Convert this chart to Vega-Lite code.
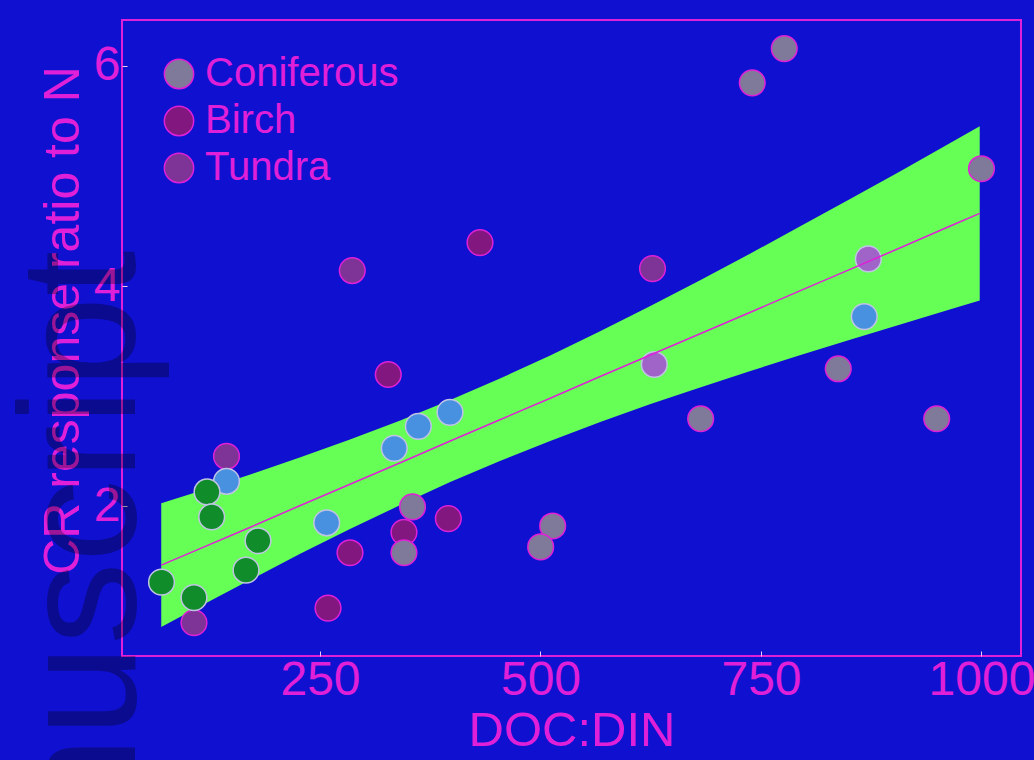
{
  "$schema": "https://vega.github.io/schema/vega-lite/v6.json",
  "autosize": {"type": "none"},
  "width": 899,
  "height": 636,
  "padding": {"left": 122, "top": 20, "right": 13, "bottom": 104},
  "background": "#1010d0",
  "config": {
    "font": "Liberation Sans",
    "view": {"stroke": "#e020d8", "strokeWidth": 2, "fill": "#1010d0"}
  },
  "datasets": {
    "pts": [
      {"x": 776.4, "y": 6.157, "type": "Coniferous", "band": "out"},
      {"x": 740.1, "y": 5.846, "type": "Coniferous", "band": "out"},
      {"x": 1000.0, "y": 5.066, "type": "Coniferous", "band": "out"},
      {"x": 871.7, "y": 4.247, "type": "Coniferous", "band": "in"},
      {"x": 867.1, "y": 3.723, "type": "Birch", "band": "in"},
      {"x": 837.6, "y": 3.249, "type": "Coniferous", "band": "out"},
      {"x": 949.2, "y": 2.795, "type": "Coniferous", "band": "out"},
      {"x": 681.6, "y": 2.795, "type": "Coniferous", "band": "out"},
      {"x": 629.0, "y": 3.288, "type": "Coniferous", "band": "in"},
      {"x": 627.0, "y": 4.159, "type": "Tundra", "band": "out"},
      {"x": 431.4, "y": 4.395, "type": "Birch", "band": "out"},
      {"x": 286.6, "y": 4.141, "type": "Tundra", "band": "out"},
      {"x": 327.4, "y": 3.197, "type": "Birch", "band": "out"},
      {"x": 397.4, "y": 2.853, "type": "Birch", "band": "in"},
      {"x": 361.5, "y": 2.726, "type": "Birch", "band": "in"},
      {"x": 334.2, "y": 2.526, "type": "Birch", "band": "in"},
      {"x": 257.6, "y": 1.850, "type": "Birch", "band": "in"},
      {"x": 354.9, "y": 1.995, "type": "Coniferous", "band": "out"},
      {"x": 395.5, "y": 1.888, "type": "Birch", "band": "out"},
      {"x": 345.2, "y": 1.764, "type": "Birch", "band": "out"},
      {"x": 345.2, "y": 1.578, "type": "Coniferous", "band": "out"},
      {"x": 284.0, "y": 1.578, "type": "Birch", "band": "out"},
      {"x": 259.1, "y": 1.075, "type": "Birch", "band": "out"},
      {"x": 513.8, "y": 1.821, "type": "Coniferous", "band": "out"},
      {"x": 500.2, "y": 1.631, "type": "Coniferous", "band": "out"},
      {"x": 144.0, "y": 2.454, "type": "Tundra", "band": "out"},
      {"x": 107.1, "y": 0.942, "type": "Tundra", "band": "out"},
      {"x": 144.0, "y": 2.227, "type": "Birch", "band": "in"},
      {"x": 121.9, "y": 2.130, "type": "Tundra", "band": "in"},
      {"x": 127.2, "y": 1.903, "type": "Tundra", "band": "in"},
      {"x": 179.7, "y": 1.687, "type": "Tundra", "band": "in"},
      {"x": 166.1, "y": 1.420, "type": "Tundra", "band": "in"},
      {"x": 70.3, "y": 1.311, "type": "Tundra", "band": "in"},
      {"x": 107.1, "y": 1.170, "type": "Tundra", "band": "in"}
    ],
    "fit": [
      {"x": 70, "fit": 1.465, "lo": 0.903, "hi": 2.027},
      {"x": 114, "fit": 1.615, "lo": 1.091, "hi": 2.139},
      {"x": 171, "fit": 1.810, "lo": 1.332, "hi": 2.288},
      {"x": 227, "fit": 2.005, "lo": 1.566, "hi": 2.444},
      {"x": 284, "fit": 2.200, "lo": 1.793, "hi": 2.607},
      {"x": 341, "fit": 2.395, "lo": 2.011, "hi": 2.779},
      {"x": 397, "fit": 2.591, "lo": 2.218, "hi": 2.964},
      {"x": 454, "fit": 2.786, "lo": 2.412, "hi": 3.160},
      {"x": 511, "fit": 2.981, "lo": 2.593, "hi": 3.369},
      {"x": 567, "fit": 3.176, "lo": 2.764, "hi": 3.588},
      {"x": 624, "fit": 3.372, "lo": 2.926, "hi": 3.818},
      {"x": 681, "fit": 3.567, "lo": 3.080, "hi": 4.054},
      {"x": 738, "fit": 3.762, "lo": 3.228, "hi": 4.296},
      {"x": 794, "fit": 3.957, "lo": 3.372, "hi": 4.542},
      {"x": 851, "fit": 4.152, "lo": 3.513, "hi": 4.791},
      {"x": 908, "fit": 4.348, "lo": 3.652, "hi": 5.044},
      {"x": 964, "fit": 4.543, "lo": 3.788, "hi": 5.298},
      {"x": 998, "fit": 4.660, "lo": 3.869, "hi": 5.451}
    ]
  },
  "encoding": {
    "x": {
      "type": "quantitative",
      "scale": {"domain": [25.5, 1044.8], "nice": false, "zero": false},
      "axis": {
        "values": [250, 500, 750, 1000], "format": "d",
        "domain": false, "grid": false,
        "tickSize": -5, "tickColor": "#f0c8f0", "tickWidth": 1,
        "labelFontSize": 48, "labelColor": "#e020d8", "labelPadding": 5,
        "labelOverlap": false, "labelFlush": false,
        "title": "DOC:DIN", "titleFontSize": 49, "titleColor": "#e020d8",
        "titleFontWeight": "normal", "titleBaseline": "alphabetic", "titleY": 89
      }
    },
    "y": {
      "type": "quantitative",
      "scale": {"domain": [0.64, 6.417], "nice": false, "zero": false},
      "axis": {
        "values": [2, 4, 6], "format": "d",
        "domain": false, "grid": false,
        "tickSize": -5, "tickColor": "#f0c8f0", "tickWidth": 1,
        "labelFontSize": 48, "labelColor": "#e020d8", "labelPadding": 7,
        "labelOverlap": false, "labelFlush": false,
        "title": "CR response ratio to N", "titleFontSize": 50, "titleColor": "#e020d8",
        "titleFontWeight": "normal", "titleBaseline": "alphabetic",
        "titleAngle": 270, "titleX": -44, "titleY": 300
      }
    }
  },
  "layer": [
    {
      "data": {"name": "fit"},
      "mark": {"type": "area", "color": "#66ff55", "opacity": 1, "clip": true},
      "encoding": {
        "x": {"field": "x", "type": "quantitative"},
        "y": {"field": "lo", "type": "quantitative"},
        "y2": {"field": "hi"}
      }
    },
    {
      "data": {"name": "pts"},
      "transform": [{"filter": "datum.band === 'out'"}],
      "mark": {"type": "circle", "size": 660, "opacity": 1, "stroke": "#e020d8", "strokeWidth": 1.5},
      "encoding": {
        "x": {"field": "x", "type": "quantitative"},
        "y": {"field": "y", "type": "quantitative"},
        "color": {
          "field": "type", "type": "nominal",
          "scale": {"domain": ["Coniferous", "Birch", "Tundra"], "range": ["#807a9a", "#82187f", "#7e3496"]},
          "legend": {
            "orient": "none", "legendX": 37, "legendY": 34, "title": null,
            "labelFontSize": 40, "labelColor": "#e020d8", "labelFont": "Liberation Sans",
            "labelLimit": 0,
            "symbolSize": 860, "symbolType": "circle", "symbolStrokeColor": "#e020d8",
            "symbolStrokeWidth": 1.5, "symbolOpacity": 1, "rowPadding": 7, "labelOffset": 6,
            "padding": 0
          }
        }
      }
    },
    {
      "data": {"name": "pts"},
      "transform": [{"filter": "datum.band === 'in'"}],
      "mark": {"type": "circle", "size": 660, "opacity": 1, "stroke": "#c0c4e4", "strokeWidth": 1.5},
      "encoding": {
        "x": {"field": "x", "type": "quantitative"},
        "y": {"field": "y", "type": "quantitative"},
        "color": {
          "field": "type", "type": "nominal",
          "scale": {"domain": ["Coniferous", "Birch", "Tundra"], "range": ["#a064c8", "#4890e0", "#108c2a"]},
          "legend": null
        }
      }
    },
    {
      "data": {"name": "fit"},
      "mark": {"type": "line", "color": "#e020d8", "strokeWidth": 1.5},
      "encoding": {
        "x": {"field": "x", "type": "quantitative"},
        "y": {"field": "fit", "type": "quantitative"}
      }
    },
    {
      "data": {"values": [{"label": "manuscript"}]},
      "mark": {"type": "text", "angle": 270, "align": "right", "baseline": "alphabetic", "fontSize": 165, "font": "Liberation Sans", "color": "#000000", "opacity": 0.3, "clip": false},
      "encoding": {
        "x": {"datum": 40.2},
        "y": {"datum": 4.322},
        "text": {"field": "label"}
      }
    }
  ],
  "resolve": {"scale": {"color": "independent"}}
}
